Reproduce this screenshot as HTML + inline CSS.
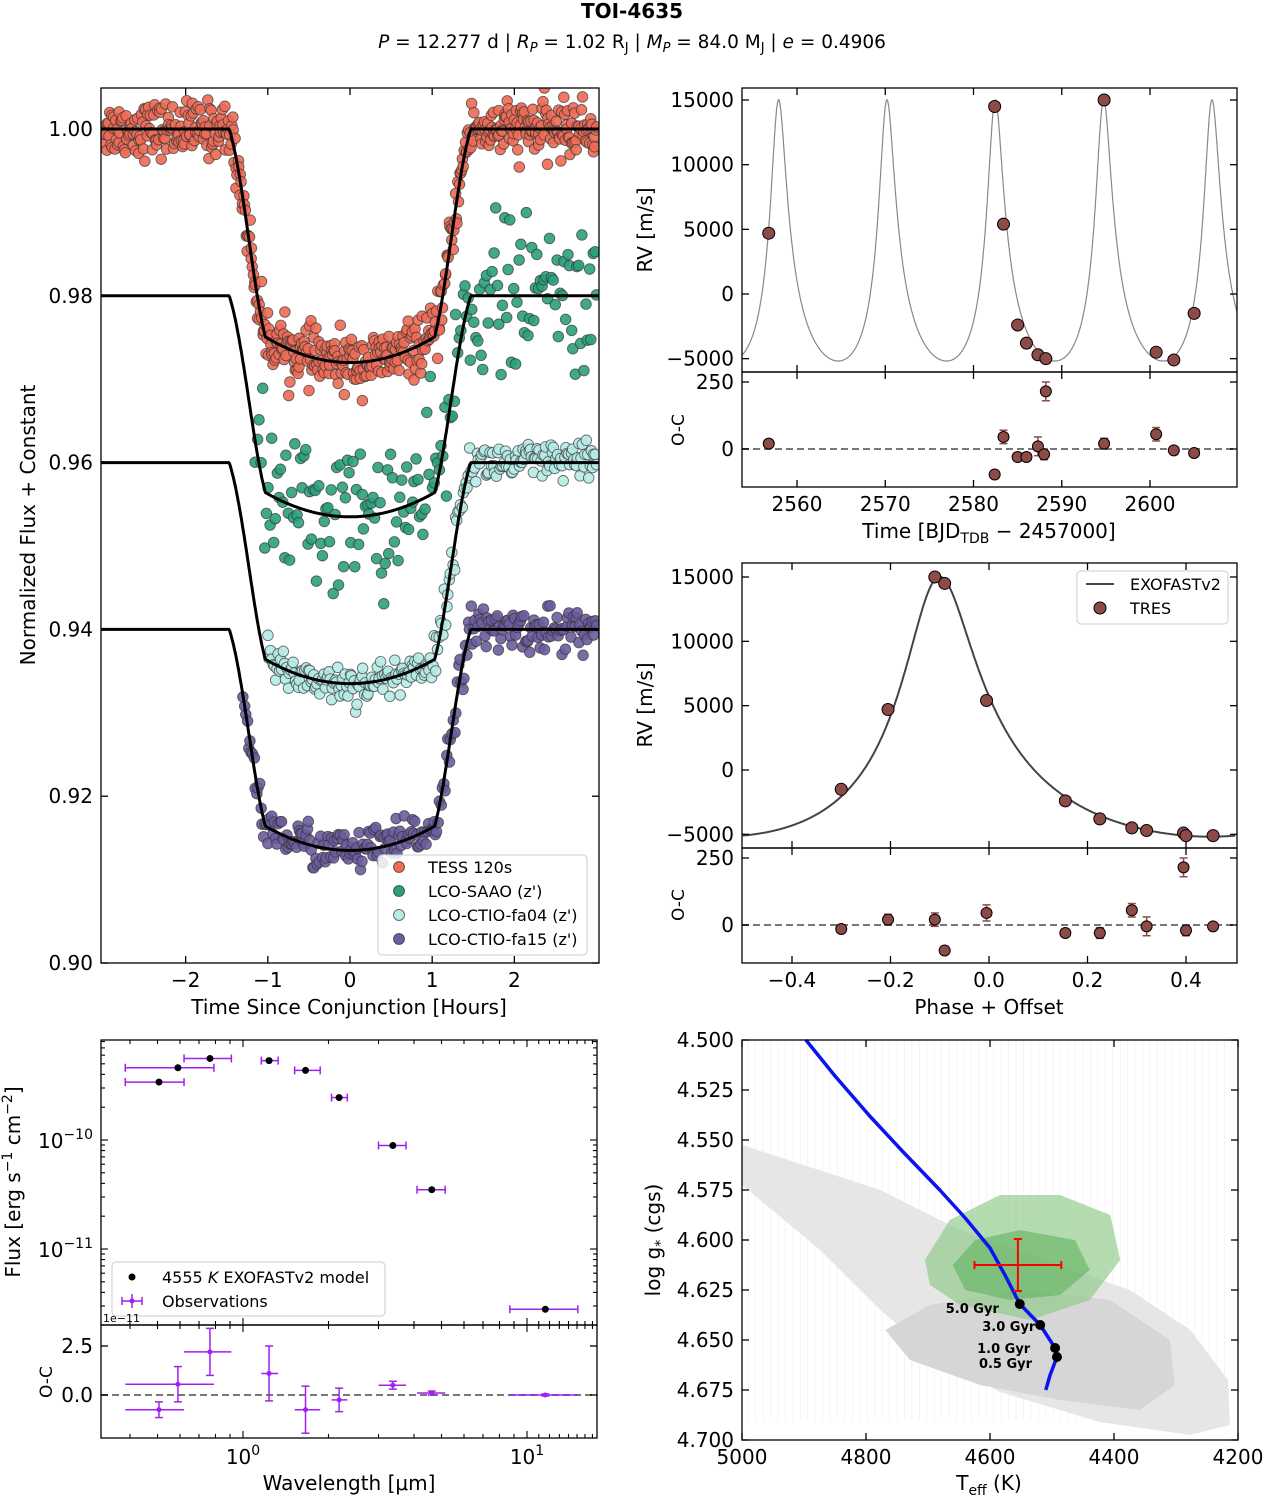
<!DOCTYPE html>
<html><head><meta charset="utf-8"><style>
html,body{margin:0;padding:0;background:#fff;}
svg{display:block;font-family:"DejaVu Sans","Liberation Sans",sans-serif;}
</style></head><body>
<svg id="fig" width="1265" height="1498" viewBox="0 0 1265 1498" xmlns="http://www.w3.org/2000/svg">
<text x="632" y="18" text-anchor="middle" font-size="20" font-weight="bold">TOI-4635</text>
<text x="632" y="48" text-anchor="middle" font-size="18.5"><tspan font-style="italic">P</tspan> = 12.277 d | <tspan font-style="italic">R</tspan><tspan font-size="13" dy="4" font-style="italic">P</tspan><tspan dy="-4"> = 1.02 R</tspan><tspan font-size="13" dy="4">J</tspan><tspan dy="-4"> | </tspan><tspan font-style="italic">M</tspan><tspan font-size="13" dy="4" font-style="italic">P</tspan><tspan dy="-4"> = 84.0 M</tspan><tspan font-size="13" dy="4">J</tspan><tspan dy="-4"> | </tspan><tspan font-style="italic">e</tspan> = 0.4906</text>
</svg>
<script>
// ---------------- DATA ----------------
const transitNames = ['TESS 120s','LCO-SAAO (z\')','LCO-CTIO-fa04 (z\')','LCO-CTIO-fa15 (z\')'];
const transitOffsets = [0, -0.02, -0.04, -0.06];
const transitDepths = [0.028, 0.0265, 0.0265, 0.0265];
const transitNoise = [0.0016, 0.0045, 0.0012, 0.0013];
const transitStart = [-3.0, -1.15, -1.0, -1.3];
const transitCount = [620, 190, 260, 260];
const transitColors = ['#ee6a55','#2aa07c','#b5ebe6','#6b5c9e'];
const rvTimes = [2556.8, 2582.4, 2583.4, 2585.0, 2586.0, 2587.3, 2588.2, 2594.8, 2600.7, 2602.7, 2605.0];
const rvValues = [4700, 14500, 5400, -2400, -3800, -4700, -5000, 15000, -4500, -5100, -1500];
const ocTimes = [2556.8, 2582.4, 2583.4, 2585.0, 2586.0, 2587.3, 2588.0, 2588.2, 2594.8, 2600.7, 2602.7, 2605.0];
const ocValues = [20, -95, 45, -30, -30, 10, -20, 215, 20, 55, -5, -15];
const ocErrs = [15, 15, 25, 15, 15, 35, 20, 35, 20, 25, 10, 10];
const phValues = [-0.30, -0.205, -0.11, -0.09, -0.005, 0.155, 0.225, 0.29, 0.32, 0.395, 0.40, 0.455];
const phRV = [-1500, 4700, 15000, 14500, 5400, -2400, -3800, -4500, -4700, -4900, -5100, -5100];
const phOC = [-15, 20, 20, -95, 45, -30, -30, 55, -5, 215, -20, -5];
const phErr = [10, 20, 25, 15, 30, 15, 20, 25, 35, 35, 20, 10];
const keplerP = 12.277, keplerE = 0.4906, keplerK = 10100, keplerW = -8, keplerGamma = 10, peakTime = 2594.75, peakPhase = -0.1;
const sedWl = [0.506, 0.59, 0.765, 1.235, 1.66, 2.18, 3.37, 4.62, 11.6];
const sedWlLo = [0.385, 0.385, 0.62, 1.16, 1.52, 2.05, 3.0, 4.1, 8.7];
const sedWlHi = [0.62, 0.79, 0.91, 1.33, 1.87, 2.33, 3.75, 5.15, 15.1];
const sedFlux = [3.4e-10, 4.6e-10, 5.6e-10, 5.35e-10, 4.35e-10, 2.45e-10, 8.9e-11, 3.5e-11, 2.8e-12];
const sedOC = [-0.75, 0.55, 2.2, 1.1, -0.75, -0.25, 0.5, 0.1, 0.0];
const sedOCerr = [0.4, 0.9, 1.2, 1.4, 1.2, 0.6, 0.2, 0.1, 0.05];
const hrOuterT = [5000,4777,4648,4503,4374,4277,4216,4213,4277,4423,4584,4697,4777,4874,4971,5000];
const hrOuterG = [4.5525,4.575,4.595,4.611,4.625,4.645,4.67,4.6925,4.6975,4.691,4.676,4.656,4.635,4.605,4.58,4.5725];
const hrMidT = [4769,4697,4552,4406,4310,4302,4358,4487,4616,4729];
const hrMidG = [4.645,4.6325,4.625,4.63,4.65,4.6725,4.685,4.68,4.6725,4.66];
const hrG1T = [4705,4665,4584,4487,4406,4390,4439,4535,4648,4697];
const hrG1G = [4.61,4.59,4.5775,4.5775,4.5875,4.61,4.63,4.64,4.6325,4.6225];
const hrG2T = [4660,4624,4552,4463,4439,4487,4568,4640];
const hrG2G = [4.6125,4.6,4.595,4.6,4.615,4.6275,4.63,4.625];
const trackT = [4897,4850,4794,4740,4681,4640,4600,4575,4552,4519,4495,4492,4503,4510];
const trackG = [4.5,4.518,4.538,4.556,4.575,4.589,4.604,4.618,4.632,4.6425,4.654,4.6585,4.6675,4.675];
const ageT = [4552,4519,4495,4492];
const ageG = [4.632,4.6425,4.654,4.6585];
const ageLabels = ['5.0 Gyr','3.0 Gyr','1.0 Gyr','0.5 Gyr'];
const starT = 4555, starTerr = 70, starG = 4.6125, starGerr = 0.013;

// ---------------- HELPERS ----------------
const NS='http://www.w3.org/2000/svg';
const svg=document.getElementById('fig');
function mk(tag, attrs, name, parent){
  const el=document.createElementNS(NS,tag);
  for(const k in attrs) el.setAttribute(k, attrs[k]);
  
  
  (parent||svg).appendChild(el);
  return el;
}
function txt(x,y,s,name,opt){
  opt=opt||{};
  const el=mk('text',{x:x,y:y,'font-size':opt.size||20,'text-anchor':opt.anchor||'middle',fill:opt.fill||'#000','font-weight':opt.weight||'normal'},name);
  if(opt.rot) el.setAttribute('transform','rotate(-90 '+x+' '+y+')');
  el.textContent=s; return el;
}
function lin(d0,d1,r0,r1){return v=>r0+(v-d0)*(r1-r0)/(d1-d0);}
function frame(x0,y0,x1,y1,name){mk('rect',{x:x0,y:y0,width:x1-x0,height:y1-y0,fill:'none',stroke:'#000','stroke-width':1.3},name);}
function xticks(vals,labels,sx,y0,y1,name,len,lab){
  vals.forEach((v,i)=>{const x=sx(v);
    mk('line',{x1:x,x2:x,y1:y1,y2:y1-len,stroke:'#000','stroke-width':1.3},name+'-tick');
    mk('line',{x1:x,x2:x,y1:y0,y2:y0+len,stroke:'#000','stroke-width':1.3},name+'-tick-top');
    if(lab && labels[i]!=null) txt(x,y1+24,labels[i],name+'-label');});
}
function yticks(vals,labels,sy,x0,x1,name,len,lab){
  vals.forEach((v,i)=>{const y=sy(v);
    mk('line',{x1:x0,x2:x0+len,y1:y,y2:y,stroke:'#000','stroke-width':1.3},name+'-tick');
    mk('line',{x1:x1,x2:x1-len,y1:y,y2:y,stroke:'#000','stroke-width':1.3},name+'-tick-right');
    if(lab && labels[i]!=null) txt(x0-8,y+7,labels[i],name+'-label',{anchor:'end'});});
}
function poly(xs,ys,sx,sy){return xs.map((v,i)=>sx(v).toFixed(1)+','+sy(ys[i]).toFixed(1)).join(' ');}
let seed=12345;
function rnd(){seed=(seed*1103515245+12345)%2147483648;return seed/2147483648;}
function gauss(){let u=rnd()||1e-9,v=rnd();return Math.sqrt(-2*Math.log(u))*Math.cos(2*Math.PI*v);}

// ---------------- PANEL A: transits ----------------
(function(){
  const X0=101,X1=599,Y0=88,Y1=963;
  const sx=lin(-3.03,3.03,X0,X1), sy=lin(1.0,0.90,129,963);
  function shape(t){const x=Math.abs(t);
    if(x>=1.47) return 0;
    const edge=0.89;
    if(x<=1.03) return 1-0.11*(x/1.03)*(x/1.03);
    const u=(1.47-x)/0.44; return edge*Math.sin(u*Math.PI/2)*(0.35+0.65*u);}
  const g=mk('g',{},'transit-panel');
  mk('rect',{x:X0,y:Y0,width:X1-X0,height:Y1-Y0,fill:'#fff'},'transit-background',g);
  const clip=mk('clipPath',{id:'cA'},'transit-clip',g);
  mk('rect',{x:X0,y:Y0,width:X1-X0,height:Y1-Y0},'transit-clip-rect',clip);
  const pts=mk('g',{'clip-path':'url(#cA)'},'transit-points',g);
  transitNames.forEach((nm,k)=>{
    const n=transitCount[k], t0=transitStart[k];
    for(let i=0;i<n;i++){
      const t=t0+(3.0-t0)*i/(n-1)+ (rnd()-0.5)*0.01;
      const f=1+transitOffsets[k]-transitDepths[k]*shape(t)+transitNoise[k]*gauss();
      mk('circle',{cx:sx(t).toFixed(1),cy:sy(f).toFixed(1),r:5.3,fill:transitColors[k],'fill-opacity':0.9,stroke:'#333','stroke-opacity':0.7,'stroke-width':0.9},'transit-point',pts);
    }
  });
  transitNames.forEach((nm,k)=>{
    let d='';
    for(let i=0;i<=600;i++){const t=-3.03+6.06*i/600;const f=1+transitOffsets[k]-transitDepths[k]*shape(t);d+=(i?'L':'M')+sx(t).toFixed(1)+','+sy(f).toFixed(1);}
    mk('path',{d:d,fill:'none',stroke:'#000','stroke-width':3},'transit-model-line',pts);
  });
  frame(X0,Y0,X1,Y1,'transit-frame');
  yticks([0.90,0.92,0.94,0.96,0.98,1.00],['0.90','0.92','0.94','0.96','0.98','1.00'],sy,X0,X1,'transit-y',7,true);
  xticks([-2,-1,0,1,2],['\u22122','\u22121','0','1','2'],sx,Y0,Y1,'transit-x',7,true);
  txt(349,1014,'Time Since Conjunction [Hours]','transit-x-axis-title');
  txt(35,525,'Normalized Flux + Constant','transit-y-axis-title',{rot:true});
  const lg=mk('g',{},'transit-legend',g);
  mk('rect',{x:378,y:855,width:209,height:100,rx:4,fill:'#fff','fill-opacity':0.85,stroke:'#ccc'},'transit-legend-box',lg);
  transitNames.forEach((nm,k)=>{const y=867+24*k;
    mk('circle',{cx:399,cy:y,r:5.5,fill:transitColors[k],stroke:'#333','stroke-opacity':0.7},'legend-marker',lg);
    txt(428,y+6,nm,'legend-entry',{anchor:'start',size:16});});
})();

// ---------------- Kepler model ----------------
function keplerV(M){let E=M;for(let i=0;i<30;i++)E=E-(E-keplerE*Math.sin(E)-M)/(1-keplerE*Math.cos(E));
  const nu=2*Math.atan2(Math.sqrt(1+keplerE)*Math.sin(E/2),Math.sqrt(1-keplerE)*Math.cos(E/2));
  const w=keplerW*Math.PI/180;return keplerK*(Math.cos(nu+w)+keplerE*Math.cos(w))+keplerGamma;}
let Mpeak=0,vmax=-1e9;for(let i=0;i<4000;i++){const M=2*Math.PI*i/4000,v=keplerV(M);if(v>vmax){vmax=v;Mpeak=M;}}
function vPhase(ph){return keplerV(Mpeak+2*Math.PI*(ph-peakPhase));}
const RVCOL='#8e4a47';

// ---------------- PANEL B: RV vs time ----------------
(function(){
  const X0=742,X1=1237,Y0=88,Ym=372,Y1=487;
  const sx=lin(2560,2600,797,1150), sy=lin(15000,0,100,294), so=lin(250,0,382,449);
  const g=mk('g',{},'rv-time-panel');
  const clip=mk('clipPath',{id:'cB'},'rv-time-clip',g);
  mk('rect',{x:X0,y:Y0,width:X1-X0,height:Ym-Y0},'rv-time-clip-rect',clip);
  let d='';for(let i=0;i<=1500;i++){const t=2553.5+56.5*i/1500;const ph=(t-peakTime)/keplerP+peakPhase;d+=(i?'L':'M')+sx(t).toFixed(1)+','+sy(vPhase(ph)).toFixed(1);}
  mk('path',{d:d,fill:'none',stroke:'#888','stroke-width':1.2,'clip-path':'url(#cB)'},'rv-time-model-line',g);
  rvTimes.forEach((t,i)=>mk('circle',{cx:sx(t),cy:sy(rvValues[i]),r:6,fill:RVCOL,stroke:'#000','stroke-width':1},'rv-time-point',g));
  frame(X0,Y0,X1,Ym,'rv-time-frame');
  yticks([-5000,0,5000,10000,15000],['\u22125000','0','5000','10000','15000'],sy,X0,X1,'rv-time-y',7,true);
  xticks([2560,2570,2580,2590,2600],[],sx,Y0,Ym,'rv-time-x-top',7,false);
  mk('line',{x1:X0,x2:X1,y1:so(0),y2:so(0),stroke:'#777','stroke-width':2,'stroke-dasharray':'7,4'},'oc-zero-line',g);
  ocTimes.forEach((t,i)=>{const x=sx(t);
    mk('line',{x1:x,x2:x,y1:so(ocValues[i]-ocErrs[i]),y2:so(ocValues[i]+ocErrs[i]),stroke:RVCOL,'stroke-width':1.5},'oc-errorbar',g);
    mk('line',{x1:x-4,x2:x+4,y1:so(ocValues[i]-ocErrs[i]),y2:so(ocValues[i]-ocErrs[i]),stroke:RVCOL,'stroke-width':1.5},'oc-cap',g);
    mk('line',{x1:x-4,x2:x+4,y1:so(ocValues[i]+ocErrs[i]),y2:so(ocValues[i]+ocErrs[i]),stroke:RVCOL,'stroke-width':1.5},'oc-cap',g);
    mk('circle',{cx:x,cy:so(ocValues[i]),r:5.5,fill:RVCOL,stroke:'#000','stroke-width':1},'oc-point',g);});
  frame(X0,Ym,X1,Y1,'rv-time-oc-frame');
  yticks([0,250],['0','250'],so,X0,X1,'rv-time-oc-y',7,true);
  xticks([2560,2570,2580,2590,2600],['2560','2570','2580','2590','2600'],sx,Ym,Y1,'rv-time-x',7,true);
  const t=txt(989,538,'Time [BJD','rv-time-x-axis-title');
  const a=document.createElementNS(NS,'tspan');a.setAttribute('font-size','14');a.setAttribute('dy','5');a.textContent='TDB';t.appendChild(a);
  const b=document.createElementNS(NS,'tspan');b.setAttribute('dy','-5');b.textContent=' \u2212 2457000]';t.appendChild(b);
  txt(652,230,'RV [m/s]','rv-time-y-axis-title',{rot:true});
  txt(684,430,'O-C','rv-time-oc-y-axis-title',{rot:true,size:17});
})();

// ---------------- PANEL C: RV vs phase ----------------
(function(){
  const X0=742,X1=1237,Y0=563,Ym=848,Y1=963;
  const sx=lin(-0.4,0.4,792,1186), sy=lin(15000,0,577,770), so=lin(250,0,858,925);
  const g=mk('g',{},'rv-phase-panel');
  let d='';for(let i=0;i<=800;i++){const p=-0.5+i/800;d+=(i?'L':'M')+sx(p).toFixed(1)+','+sy(vPhase(p)).toFixed(1);}
  mk('path',{d:d,fill:'none',stroke:'#444','stroke-width':2},'rv-phase-model-line',g);
  phValues.forEach((p,i)=>mk('circle',{cx:sx(p),cy:sy(phRV[i]),r:6,fill:RVCOL,stroke:'#000','stroke-width':1},'rv-phase-point',g));
  frame(X0,Y0,X1,Ym,'rv-phase-frame');
  yticks([-5000,0,5000,10000,15000],['\u22125000','0','5000','10000','15000'],sy,X0,X1,'rv-phase-y',7,true);
  xticks([-0.4,-0.2,0,0.2,0.4],[],sx,Y0,Ym,'rv-phase-x-top',7,false);
  const lg=mk('g',{},'rv-legend',g);
  mk('rect',{x:1077,y:571,width:151,height:53,rx:4,fill:'#fff',stroke:'#ccc'},'rv-legend-box',lg);
  mk('line',{x1:1086,x2:1114,y1:584,y2:584,stroke:'#444','stroke-width':2},'legend-line',lg);
  txt(1130,590,'EXOFASTv2','legend-entry',{anchor:'start',size:16});
  mk('circle',{cx:1100,cy:608,r:6,fill:RVCOL,stroke:'#000'},'legend-marker',lg);
  txt(1130,614,'TRES','legend-entry',{anchor:'start',size:16});
  mk('line',{x1:X0,x2:X1,y1:so(0),y2:so(0),stroke:'#777','stroke-width':2,'stroke-dasharray':'7,4'},'oc-zero-line',g);
  phValues.forEach((p,i)=>{const x=sx(p);
    mk('line',{x1:x,x2:x,y1:so(phOC[i]-phErr[i]),y2:so(phOC[i]+phErr[i]),stroke:RVCOL,'stroke-width':1.5},'oc-errorbar',g);
    mk('line',{x1:x-4,x2:x+4,y1:so(phOC[i]-phErr[i]),y2:so(phOC[i]-phErr[i]),stroke:RVCOL,'stroke-width':1.5},'oc-cap',g);
    mk('line',{x1:x-4,x2:x+4,y1:so(phOC[i]+phErr[i]),y2:so(phOC[i]+phErr[i]),stroke:RVCOL,'stroke-width':1.5},'oc-cap',g);
    mk('circle',{cx:x,cy:so(phOC[i]),r:5.5,fill:RVCOL,stroke:'#000','stroke-width':1},'oc-point',g);});
  frame(X0,Ym,X1,Y1,'rv-phase-oc-frame');
  yticks([0,250],['0','250'],so,X0,X1,'rv-phase-oc-y',7,true);
  xticks([-0.4,-0.2,0,0.2,0.4],['\u22120.4','\u22120.2','0.0','0.2','0.4'],sx,Ym,Y1,'rv-phase-x',7,true);
  txt(989,1014,'Phase + Offset','rv-phase-x-axis-title');
  txt(652,705,'RV [m/s]','rv-phase-y-axis-title',{rot:true});
  txt(684,905,'O-C','rv-phase-oc-y-axis-title',{rot:true,size:17});
})();

// ---------------- PANEL D: SED ----------------
(function(){
  const X0=101,X1=597,Y0=1040,Ym=1325,Y1=1438;
  const lx=v=>243+Math.log10(v)*284, ly=v=>1140-(Math.log10(v)+10)*109, so=lin(2.5,0,1346,1395);
  const PUR='#a020f0';
  const g=mk('g',{},'sed-panel');
  sedWl.forEach((w,i)=>{const x=lx(w),y=ly(sedFlux[i]);
    mk('line',{x1:lx(sedWlLo[i]),x2:lx(sedWlHi[i]),y1:y,y2:y,stroke:PUR,'stroke-width':1.5},'sed-xerr',g);
    mk('line',{x1:lx(sedWlLo[i]),x2:lx(sedWlLo[i]),y1:y-4,y2:y+4,stroke:PUR,'stroke-width':1.5},'sed-cap',g);
    mk('line',{x1:lx(sedWlHi[i]),x2:lx(sedWlHi[i]),y1:y-4,y2:y+4,stroke:PUR,'stroke-width':1.5},'sed-cap',g);
    mk('circle',{cx:x,cy:y,r:3.5,fill:'#000'},'sed-model-point',g);});
  frame(X0,Y0,X1,Ym,'sed-frame');
  [0.4,0.5,0.6,0.7,0.8,0.9,1,2,3,4,5,6,7,8,9,10,11,12,13,14,15,16,17].forEach(v=>{const x=lx(v),L=(v===1||v===10)?7:4;
    [[Y0,Y0+L],[Ym,Ym-L],[Ym,Ym+L],[Y1,Y1-L]].forEach(p=>mk('line',{x1:x,x2:x,y1:p[0],y2:p[1],stroke:'#000','stroke-width':1.1},'sed-x-tick',g));});
  for(let e=-12;e<=-9;e++)for(let m=1;m<10;m++){const v=m*Math.pow(10,e),y=ly(v);if(y<Y0||y>Ym)continue;const L=m===1?7:4;
    mk('line',{x1:X0,x2:X0+L,y1:y,y2:y,stroke:'#000','stroke-width':1.1},'sed-y-tick',g);
    mk('line',{x1:X1,x2:X1-L,y1:y,y2:y,stroke:'#000','stroke-width':1.1},'sed-y-tick',g);}
  [[-10,1140],[-11,1249]].forEach(p=>{const t=txt(93,p[1]+8,'10','sed-y-label',{anchor:'end'});
    const s=document.createElementNS(NS,'tspan');s.setAttribute('font-size','14');s.setAttribute('dy','-9');s.textContent='\u2212'+(-p[0]);t.appendChild(s);});
  txt(103,1322,'1e\u221211','sed-offset-text',{anchor:'start',size:11});
  const lg=mk('g',{},'sed-legend',g);
  mk('rect',{x:112,y:1262,width:273,height:54,rx:4,fill:'#fff',stroke:'#ccc'},'sed-legend-box',lg);
  mk('circle',{cx:132,cy:1277,r:3.5,fill:'#000'},'legend-marker',lg);
  const lt=txt(162,1283,'4555 ','legend-entry',{anchor:'start',size:16});
  const it=document.createElementNS(NS,'tspan');it.setAttribute('font-style','italic');it.textContent='K';lt.appendChild(it);
  const it2=document.createElementNS(NS,'tspan');it2.textContent=' EXOFASTv2 model';lt.appendChild(it2);
  mk('path',{d:'M122,1301H142M132,1294V1308M122,1297V1305M142,1297V1305',stroke:PUR,'stroke-width':1.5,fill:'none'},'legend-marker',lg);
  mk('circle',{cx:132,cy:1301,r:2.5,fill:PUR},'legend-marker',lg);
  txt(162,1307,'Observations','legend-entry',{anchor:'start',size:16});
  mk('line',{x1:X0,x2:X1,y1:so(0),y2:so(0),stroke:'#777','stroke-width':2,'stroke-dasharray':'7,4'},'oc-zero-line',g);
  sedWl.forEach((w,i)=>{const x=lx(w),y=so(sedOC[i]);
    mk('line',{x1:lx(sedWlLo[i]),x2:lx(sedWlHi[i]),y1:y,y2:y,stroke:PUR,'stroke-width':1.5},'sed-oc-xerr',g);
    mk('line',{x1:x,x2:x,y1:so(sedOC[i]-sedOCerr[i]),y2:so(sedOC[i]+sedOCerr[i]),stroke:PUR,'stroke-width':1.5},'sed-oc-yerr',g);
    mk('line',{x1:x-4,x2:x+4,y1:so(sedOC[i]-sedOCerr[i]),y2:so(sedOC[i]-sedOCerr[i]),stroke:PUR,'stroke-width':1.5},'sed-oc-cap',g);
    mk('line',{x1:x-4,x2:x+4,y1:so(sedOC[i]+sedOCerr[i]),y2:so(sedOC[i]+sedOCerr[i]),stroke:PUR,'stroke-width':1.5},'sed-oc-cap',g);
    mk('circle',{cx:x,cy:y,r:2.5,fill:PUR},'sed-oc-point',g);});
  frame(X0,Ym,X1,Y1,'sed-oc-frame');
  yticks([0,2.5],['0.0','2.5'],so,X0,X1,'sed-oc-y',7,true);
  [[1,'0'],[10,'1']].forEach(p=>{const t=txt(lx(p[0]),Y1+26,'10','sed-x-label');const s=document.createElementNS(NS,'tspan');s.setAttribute('font-size','14');s.setAttribute('dy','-9');s.textContent=p[1];t.appendChild(s);});
  txt(349,1490,'Wavelength [\u03bcm]','sed-x-axis-title');
  const yt=txt(20,1182,'Flux [erg s','sed-y-axis-title',{rot:true});
  [['\u22121','-8'],[' cm','8'],['\u22122','-8'],[']','8']].forEach(p=>{const s=document.createElementNS(NS,'tspan');s.setAttribute('dy',p[1]);if(p[0][0]==='\u2212')s.setAttribute('font-size','14');s.textContent=p[0];yt.appendChild(s);});
  txt(52,1382,'O-C','sed-oc-y-axis-title',{rot:true,size:17});
})();

// ---------------- PANEL E: HR diagram ----------------
(function(){
  const X0=742,X1=1238,Y0=1040,Y1=1440;
  const sx=lin(5000,4200,X0,X1), sy=lin(4.5,4.7,Y0,Y1);
  const g=mk('g',{},'hr-panel');
  for(let T=4990;T>4210;T-=12){mk('line',{x1:sx(T),x2:sx(T),y1:Y0,y2:Y1-20,stroke:'#f0f0f0','stroke-width':0.7},'hr-background-track',g);}
  mk('polygon',{points:poly(hrOuterT,hrOuterG,sx,sy),fill:'#e6e6e6'},'hr-outer-region',g);
  mk('polygon',{points:poly(hrMidT,hrMidG,sx,sy),fill:'#d6d6d6'},'hr-inner-region',g);
  mk('polygon',{points:poly(hrG1T,hrG1G,sx,sy),fill:'#8ec986','fill-opacity':0.65},'hr-green-outer',g);
  mk('polygon',{points:poly(hrG2T,hrG2G,sx,sy),fill:'#5aae57','fill-opacity':0.55},'hr-green-inner',g);
  mk('polyline',{points:poly(trackT,trackG,sx,sy),fill:'none',stroke:'#0a14f0','stroke-width':3.5,'stroke-linejoin':'round'},'evolution-track',g);
  ageT.forEach((T,i)=>{mk('circle',{cx:sx(T),cy:sy(ageG[i]),r:5,fill:'#000'},'age-marker',g);
    const dx=[-74,-58,-78,-78][i], dy=[9,6,5,11][i];
    txt(sx(T)+dx,sy(ageG[i])+dy,ageLabels[i],'age-label',{anchor:'start',size:13,weight:'bold'});});
  const cx=sx(starT),cy=sy(starG);
  mk('line',{x1:sx(starT+starTerr),x2:sx(starT-starTerr),y1:cy,y2:cy,stroke:'#f00','stroke-width':2},'star-teff-errorbar',g);
  mk('line',{x1:cx,x2:cx,y1:sy(starG-starGerr),y2:sy(starG+starGerr),stroke:'#f00','stroke-width':2},'star-logg-errorbar',g);
  [[sx(starT+starTerr),cy,0],[sx(starT-starTerr),cy,0],[cx,sy(starG-starGerr),1],[cx,sy(starG+starGerr),1]].forEach(p=>{
    if(p[2]) mk('line',{x1:p[0]-4,x2:p[0]+4,y1:p[1],y2:p[1],stroke:'#f00','stroke-width':2},'star-cap',g);
    else mk('line',{x1:p[0],x2:p[0],y1:p[1]-4,y2:p[1]+4,stroke:'#f00','stroke-width':2},'star-cap',g);});
  frame(X0,Y0,X1,Y1,'hr-frame');
  const gv=[4.5,4.525,4.55,4.575,4.6,4.625,4.65,4.675,4.7];
  yticks(gv,gv.map(v=>v.toFixed(3)),sy,X0,X1,'hr-y',7,true);
  xticks([5000,4800,4600,4400,4200],['5000','4800','4600','4400','4200'],sx,Y0,Y1,'hr-x',7,true);
  const t=txt(989,1490,'T','hr-x-axis-title');
  const s=document.createElementNS(NS,'tspan');s.setAttribute('font-size','14');s.setAttribute('dy','5');s.textContent='eff';t.appendChild(s);
  const s2=document.createElementNS(NS,'tspan');s2.setAttribute('dy','-5');s2.textContent=' (K)';t.appendChild(s2);
  const yt=txt(660,1240,'log g','hr-y-axis-title',{rot:true});
  const s3=document.createElementNS(NS,'tspan');s3.setAttribute('font-size','14');s3.setAttribute('dy','5');s3.textContent='*';yt.appendChild(s3);
  const s4=document.createElementNS(NS,'tspan');s4.setAttribute('dy','-5');s4.textContent=' (cgs)';yt.appendChild(s4);
})();
</script>
</body></html>
